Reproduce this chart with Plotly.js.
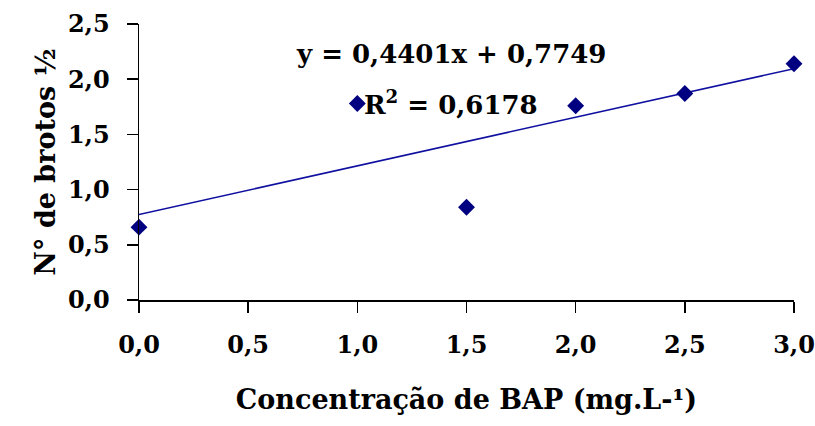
<!DOCTYPE html>
<html>
<head>
<meta charset="utf-8">
<script src="https://cdn.plot.ly/plotly-3.0.1.min.js"></script>
<style>html,body{margin:0;padding:0;background:#fff;}#chart{width:815px;height:426px;}</style>
</head>
<body>
<div id="chart"></div>
<script>
const concBAP = [0, 1.0, 1.5, 2.0, 2.5, 3.0];
const brotos = [0.66, 1.78, 0.84, 1.76, 1.87, 2.14];
const trendSlope = 0.4401;
const trendIntercept = 0.7749;
const trendX = [0, 3];
const trendY = trendX.map(x => trendIntercept + trendSlope * x);
const tickVals = [0, 0.5, 1.0, 1.5, 2.0, 2.5, 3.0];
const yTickVals = [0, 0.5, 1.0, 1.5, 2.0, 2.5];
const eqText = "y = 0,4401x + 0,7749";
const r2Text = "R<sup>2</sup> = 0,6178";
const xTitle = "Concentração de BAP (mg.L-¹)";
const yTitle = "N° de brotos ½";

const fam = "DejaVu Serif";
const tickFont = {family: fam, size: 24, color: "#000", weight: "bold"};
const titleFont = {family: fam, size: 27, color: "#000", weight: "bold"};
const annFont = {family: fam, size: 26, color: "#000", weight: "bold"};

const traces = [
  {x: trendX, y: trendY, mode: "lines", line: {color: "#1010a0", width: 1.5}, hoverinfo: "skip", showlegend: false},
  {x: concBAP, y: brotos, mode: "markers", marker: {symbol: "diamond", size: 13, color: "#000080"}, cliponaxis: false, showlegend: false}
];

const layout = {
  width: 815, height: 426,
  margin: {l: 139, r: 21, t: 24, b: 126},
  paper_bgcolor: "#fff", plot_bgcolor: "#fff",
  separators: ",.",
  font: tickFont,
  showlegend: false,
  xaxis: {
    range: [0, 3], tickvals: tickVals, tickformat: ".1f",
    showgrid: false, zeroline: false, showline: true, linecolor: "#000", linewidth: 1.5,
    ticks: "outside", ticklen: 11, tickwidth: 1.5, tickcolor: "#000",
    ticklabelstandoff: 12,
    tickfont: tickFont,
    title: {text: xTitle, font: titleFont, standoff: 32}
  },
  yaxis: {
    range: [0, 2.5], tickvals: yTickVals, tickformat: ".1f",
    showgrid: false, zeroline: false, showline: true, linecolor: "#000", linewidth: 1.5,
    ticks: "outside", ticklen: 11, tickwidth: 1.5, tickcolor: "#000",
    ticklabelstandoff: 12,
    tickfont: tickFont,
    title: {text: yTitle, font: titleFont, standoff: 4}
  },
  annotations: [
    {x: 1.43, y: 2.23, xref: "x", yref: "y", text: eqText, showarrow: false, font: annFont},
    {x: 1.02, y: 1.78, xref: "x", yref: "y", xanchor: "left", text: r2Text, showarrow: false, font: annFont}
  ]
};

Plotly.newPlot("chart", traces, layout, {displayModeBar: false, staticPlot: true});
</script>
</body>
</html>
